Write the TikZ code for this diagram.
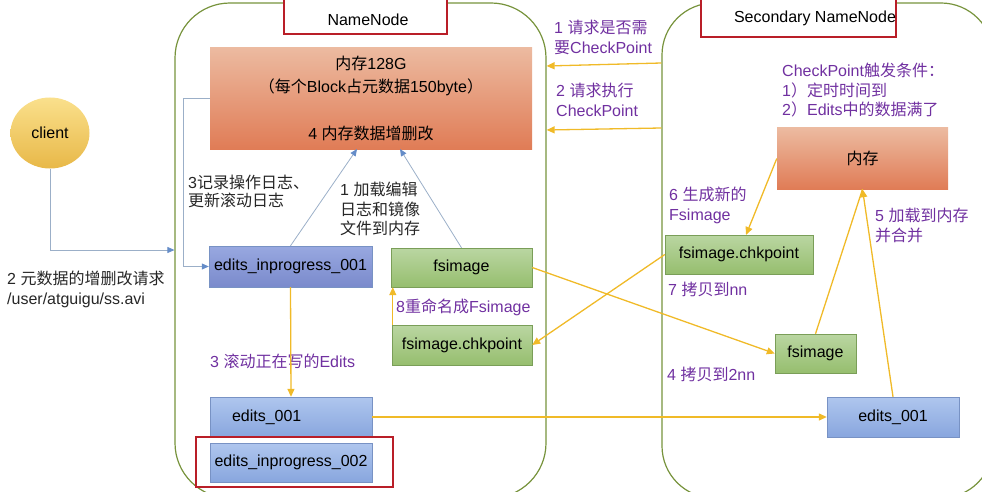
\documentclass[tikz,border=0pt]{standalone}
\usepackage{fontspec}
\setmainfont{Liberation Sans}
\newfontfamily\cjk{Noto Sans CJK SC}
\newcommand\zh[1]{{\cjk #1}}
\usetikzlibrary{arrows.meta}
\usetikzlibrary{shapes.geometric}

\definecolor{framegreen}{RGB}{119,147,60}
\definecolor{titlered}{RGB}{185,30,40}
\definecolor{memtop}{RGB}{236,186,160}
\definecolor{membot}{RGB}{224,124,86}
\definecolor{greentop}{RGB}{186,214,162}
\definecolor{greenbot}{RGB}{150,190,110}
\definecolor{greenedge}{RGB}{122,158,88}
\definecolor{bluetop}{RGB}{175,198,238}
\definecolor{bluebot}{RGB}{136,166,222}
\definecolor{blueedge}{RGB}{120,146,196}
\definecolor{violettop}{RGB}{152,168,224}
\definecolor{violetbot}{RGB}{122,138,204}
\definecolor{balltop}{RGB}{250,224,140}
\definecolor{ballbot}{RGB}{232,184,72}
\definecolor{flowyellow}{RGB}{240,186,40}
\definecolor{linkgray}{RGB}{155,175,200}
\definecolor{linktip}{RGB}{100,140,200}
\definecolor{notepurple}{RGB}{112,48,160}

\begin{document}
\begin{tikzpicture}[x=1pt,y=-1pt,
    every node/.style={font=\fontsize{16}{19.5}\selectfont},
    frame/.style={draw=framegreen, line width=1.2pt, rounded corners=55pt, inner sep=0pt},
    titlebox/.style={draw=titlered, line width=1.2pt, inner sep=0pt, fill=white},
    titletext/.style={text depth=0pt, inner sep=0pt},
    membox/.style={top color=memtop, bottom color=membot, inner sep=0pt},
    greenbox/.style={top color=greentop, bottom color=greenbot, draw=greenedge, inner sep=0pt},
    bluebox/.style={top color=bluetop, bottom color=bluebot, draw=blueedge, inner sep=0pt},
    violetbox/.style={top color=violettop, bottom color=violetbot, draw=blueedge, inner sep=0pt},
    clientball/.style={ellipse, top color=balltop, bottom color=ballbot, inner sep=0pt},
    note/.style={text=notepurple, align=left, anchor=north west, inner sep=0pt},
    plain/.style={text=black!85, align=left, anchor=north west, inner sep=0pt},
    flow/.style={draw=flowyellow, line width=1.3pt, -{Triangle[length=8pt,width=7pt]}},
    flowline/.style={draw=flowyellow, line width=1.3pt},
    link/.style={draw=linkgray, line width=0.8pt, -{Triangle[length=7pt,width=6pt,color=linktip]}}]

    \path[use as bounding box] (0,0) rectangle (982,492);
    \clip (0,0) rectangle (982,492);

    \node[frame, minimum width=371pt, minimum height=495pt] (nn) at (360.5,250.5) {};
    \node[frame, rounded corners=52pt, minimum width=331pt, minimum height=495pt] (snn) at (827.5,250.5) {};
    \node[titlebox, minimum width=163pt, minimum height=38pt,
        label={[titletext, xshift=2.5pt, yshift=-4.5pt]center:NameNode}] (nntitle) at (365.5,15) {};
    \node[titlebox, minimum width=195pt, minimum height=41pt,
        label={[titletext, xshift=16.5pt]center:Secondary NameNode}] (snntitle) at (798.5,16.5) {};

    \node[membox, minimum width=322pt, minimum height=101pt, align=center,
        font=\fontsize{16}{23}\selectfont] (nnmem) at (371,98.5)
        {\zh{内存}128G\\\zh{（每个}Block\zh{占元数据}150byte\zh{）}\\[24pt]4 \zh{内存数据增删改}};
    \node[clientball, minimum width=79pt, minimum height=71pt] (client) at (50,133) {client};

    \node[violetbox, minimum width=163pt, minimum height=41pt] (eip1) at (290.5,266.5) {edits\_inprogress\_001};
    \node[greenbox, minimum width=141pt, minimum height=39pt] (nnfs) at (461.5,267.5) {fsimage};
    \node[greenbox, minimum width=140pt, minimum height=40pt] (nnck) at (462,345) {fsimage.chkpoint};
    \node[bluebox, minimum height=40pt, text width=162pt, align=left] (ed1) at (291,417) {\hspace*{22pt}edits\_001};
    \node[bluebox, minimum width=162pt, minimum height=39pt] (eip2) at (291,462.5) {edits\_inprogress\_002};
    \node[titlebox, fill=none, minimum width=197pt, minimum height=50pt] (eip2mark) at (294.5,462) {};

    \node[membox, minimum width=171pt, minimum height=61pt] (smem) at (862.5,158.5) {\zh{内存}};
    \node[greenbox, minimum width=148pt, minimum height=39pt] (sck) at (739,254.5) {fsimage.chkpoint};
    \node[greenbox, minimum width=81pt, minimum height=39pt] (sfs) at (815.5,353.5) {fsimage};
    \node[bluebox, minimum width=132pt, minimum height=40pt] (sed1) at (893,417) {edits\_001};

    \node[note] (ask1) at (554,20) {1 \zh{请求是否需}\\\zh{要}CheckPoint};
    \node[note] (ask2) at (556,83) {2 \zh{请求执行}\\CheckPoint};
    \node[note] (cond) at (782,63) {CheckPoint\zh{触发条件：}\\1\zh{）定时时间到}\\2\zh{）}Edits\zh{中的数据满了}};
    \node[note] (gen6) at (669,187) {6 \zh{生成新的}\\Fsimage};
    \node[note] (load5) at (875,208) {5 \zh{加载到内存}\\\zh{并合并}};
    \node[note] (copy7) at (668,282) {7 \zh{拷贝到}nn};
    \node[note] (copy4) at (667,367) {4 \zh{拷贝到}2nn};
    \node[note] (rename8) at (396,299) {8\zh{重命名成}Fsimage};
    \node[note] (roll3) at (210,354) {3 \zh{滚动正在写的}Edits};
    \node[plain, font=\fontsize{16}{18}\selectfont] (log3) at (188,175) {3\zh{记录操作日志、}\\\zh{更新滚动日志}};
    \node[plain] (load1) at (340,182) {1 \zh{加载编辑}\\\zh{日志和镜像}\\\zh{文件到内存}};
    \node[plain, font=\fontsize{16}{20}\selectfont] (req2) at (7,271) {2 \zh{元数据的增删改请求}\\/user/atguigu/ss.avi};

    \coordinate (reqin) at (nn.west |- 0,250);
    \coordinate (memin1) at (357,149);
    \coordinate (memin2) at (400,149);
    \coordinate (askout1) at (snn.west |- 0,63);
    \coordinate (askin1) at (nn.east |- 0,66);
    \coordinate (askout2) at (snn.west |- 0,128);
    \coordinate (askin2) at (nn.east |- 0,130);
    \coordinate (renfrom) at ([xshift=1pt]nnck.north west);
    \coordinate (newck) at (746,235);

    \draw[link] (client.south) |- (reqin);
    \draw[link] (nnmem.west) -| ([xshift=-25pt]eip1.west) -- (eip1.west);
    \draw[link] (eip1.north) -- (memin1);
    \draw[link] (nnfs.north) -- (memin2);

    \draw[flow] (askout1) -- (askin1);
    \draw[flow] (askout2) -- (askin2);
    \draw[flow] (eip1.south) -- (ed1.north);
    \draw[flow] (renfrom) -- (renfrom |- nnfs.south);
    \draw[flow] (nnfs.east) -- (sfs.west);
    \draw[flow] (sck.west) -- (nnck.east);
    \draw[flow] (ed1.east) -- (sed1.west);
    \draw[flow] (smem.west) -- (newck);
    \draw[flowline] (sfs.north) -- (smem.south);
    \draw[flow] (sed1.north) -- (smem.south);
\end{tikzpicture}
\end{document}
